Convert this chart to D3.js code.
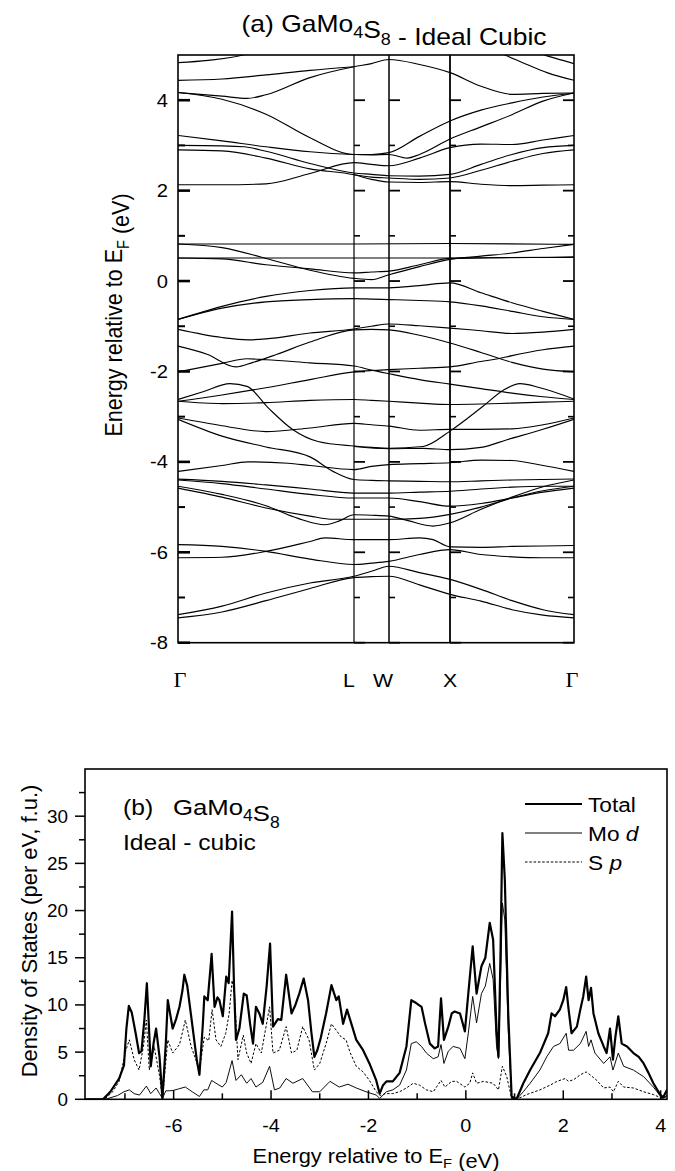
<!DOCTYPE html>
<html><head><meta charset="utf-8">
<script src="https://cdn.jsdelivr.net/npm/d3@7/dist/d3.min.js"></script>
<style>
body{margin:0;background:#fff}
svg{display:block}
text{font-family:"Liberation Sans",Arial,Helvetica,sans-serif;fill:#000}
</style>
</head><body>
<svg id="c" width="675" height="1171"></svg>
<script>
// ---------------- DATA ----------------
// (a) band structure: high-symmetry points along the k path
const kPoints = [0, 1.76, 2.11, 2.72, 3.96];
const kLabels = ["Γ", "L", "W", "X", "Γ"];
const bandYTicks = [-8, -6, -4, -2, 0, 2, 4];
const bandMinorTicks = [-7, -5, -3, -1, 1, 3];

// each band: [k, energy (eV)]
const bands = [
  [[0,4.83],[0.3,4.88],[0.65,5.0],[1.0,5.3],[1.76,5.6],[2.72,5.6],[3.34,5.3],[3.69,4.98],[3.85,4.88],[3.96,4.81]],
  [[0,4.44],[0.44,4.47],[0.88,4.56],[1.32,4.66],[1.76,4.74]],
  [[3.1,5.15],[3.27,5.0],[3.49,4.79],[3.69,4.61],[3.96,4.44]],
  [[0,4.17],[0.44,4.09],[0.69,4.04],[0.88,4.12],[1.32,4.5],[1.76,4.74],[1.935,4.81],[2.11,4.90],[2.415,4.79],[2.72,4.61],[3.03,4.31],[3.34,4.13],[3.65,4.15],[3.96,4.16]],
  [[0,4.17],[0.44,4.02],[0.88,3.69],[1.32,3.17],[1.76,2.80],[1.935,2.80],[2.11,2.84],[2.415,3.20],[2.72,3.54],[3.03,3.78],[3.34,3.94],[3.65,4.07],[3.96,4.16]],
  [[0,3.22],[0.44,3.10],[0.88,2.97],[1.32,2.86],[1.76,2.80],[1.935,2.79],[2.11,2.80],[2.29,2.72],[2.415,2.80],[2.72,3.14],[3.03,3.41],[3.34,3.68],[3.65,3.98],[3.96,4.16]],
  [[0,3.0],[0.44,2.99],[0.66,2.97],[0.88,2.87],[1.32,2.60],[1.76,2.39],[1.935,2.36],[2.11,2.33],[2.415,2.32],[2.72,2.36],[3.03,2.58],[3.34,2.80],[3.65,2.95],[3.96,3.0]],
  [[0,2.9],[0.44,2.88],[0.88,2.72],[1.32,2.48],[1.76,2.35],[1.935,2.25],[2.11,2.19],[2.415,2.18],[2.72,2.2],[3.03,2.14],[3.34,2.11],[3.65,2.12],[3.96,2.13]],
  [[0,2.13],[0.44,2.13],[0.88,2.15],[1.32,2.38],[1.76,2.62],[1.935,2.58],[2.11,2.55],[2.415,2.72],[2.72,2.95],[3.03,3.03],[3.34,3.02],[3.65,3.12],[3.96,3.22]],
  [[1.76,2.35],[1.935,2.3],[2.11,2.28],[2.415,2.25],[2.72,2.28],[3.03,2.45],[3.34,2.65],[3.65,2.82],[3.96,2.9]],
  [[0,0.82],[1.76,0.82],[2.72,0.83],[3.96,0.81]],
  [[0,0.51],[1.76,0.51],[2.72,0.51],[3.96,0.53]],
  [[0,0.82],[0.44,0.74],[0.88,0.5],[1.32,0.24],[1.76,0.06],[1.935,0.03],[2.11,0.14],[2.415,0.32],[2.72,0.48],[3.03,0.55],[3.34,0.62],[3.65,0.72],[3.96,0.81]],
  [[0,0.51],[0.44,0.49],[0.88,0.36],[1.32,0.27],[1.76,0.18],[1.935,0.2],[2.11,0.22],[2.415,0.36],[2.72,0.5],[3.03,0.51],[3.34,0.52],[3.65,0.52],[3.96,0.53]],
  [[0,-0.85],[0.44,-0.56],[0.88,-0.34],[1.32,-0.21],[1.76,-0.15],[1.935,-0.15],[2.11,-0.15],[2.415,-0.1],[2.72,-0.04],[3.03,-0.26],[3.34,-0.48],[3.65,-0.67],[3.96,-0.85]],
  [[0,-0.85],[0.44,-0.6],[0.88,-0.46],[1.32,-0.41],[1.76,-0.39],[1.935,-0.4],[2.11,-0.41],[2.415,-0.43],[2.72,-0.46],[3.03,-0.55],[3.34,-0.67],[3.65,-0.79],[3.96,-0.85]],
  [[0,-1.07],[0.44,-1.25],[0.7,-1.3],[0.88,-1.28],[1.32,-1.15],[1.76,-1.06],[1.935,-1.0],[2.11,-0.95],[2.415,-0.99],[2.72,-1.04],[3.03,-1.1],[3.34,-1.16],[3.65,-1.13],[3.96,-1.07]],
  [[0,-1.44],[0.29,-1.62],[0.58,-1.9],[0.75,-1.8],[0.99,-1.62],[1.32,-1.35],[1.76,-1.08],[1.935,-1.07],[2.11,-1.08],[2.415,-1.2],[2.72,-1.37],[3.03,-1.58],[3.34,-1.8],[3.65,-1.95],[3.96,-2.01]],
  [[0,-2.01],[0.44,-1.82],[0.69,-1.72],[0.88,-1.74],[1.32,-1.81],[1.76,-1.88],[1.935,-1.97],[2.11,-2.05],[2.415,-2.18],[2.72,-2.28],[3.03,-2.38],[3.34,-2.48],[3.65,-2.56],[3.96,-2.62]],
  [[0,-2.66],[0.44,-2.52],[0.88,-2.36],[1.32,-2.18],[1.76,-2.01],[1.935,-1.98],[2.11,-1.96],[2.415,-1.93],[2.72,-1.9],[3.03,-1.78],[3.2,-1.72],[3.34,-1.65],[3.65,-1.52],[3.96,-1.44]],
  [[0,-2.66],[0.44,-2.71],[0.88,-2.69],[1.32,-2.64],[1.76,-2.62],[1.935,-2.64],[2.11,-2.66],[2.415,-2.7],[2.72,-2.73],[3.03,-2.72],[3.34,-2.7],[3.65,-2.68],[3.96,-2.66]],
  [[0,-2.62],[0.25,-2.45],[0.52,-2.27],[0.69,-2.33],[0.9,-2.8],[1.15,-3.29],[1.4,-3.55],[1.76,-3.65],[1.935,-3.68],[2.11,-3.7],[2.45,-3.66],[2.72,-3.32],[3.05,-2.77],[3.25,-2.42],[3.42,-2.27],[3.62,-2.36],[3.96,-2.61]],
  [[1.76,-3.66],[2.11,-3.71],[2.45,-3.70],[2.72,-3.73],[3.03,-3.68],[3.29,-3.51],[3.65,-3.28],[3.96,-3.06]],
  [[0,-3.03],[0.44,-3.2],[0.88,-3.33],[1.32,-3.25],[1.76,-3.15],[1.935,-3.18],[2.11,-3.21],[2.415,-3.3],[2.72,-3.28],[3.03,-3.28],[3.34,-3.27],[3.65,-3.18],[3.96,-3.03]],
  [[0,-3.06],[0.44,-3.43],[0.88,-3.67],[1.32,-3.89],[1.55,-4.21],[1.76,-4.39],[1.935,-4.41],[2.11,-4.42],[2.415,-4.43],[2.72,-4.44],[3.03,-4.42],[3.34,-4.4],[3.65,-4.39],[3.96,-4.38]],
  [[0,-4.21],[0.44,-4.08],[0.7,-4.0],[1.1,-4.03],[1.32,-4.08],[1.76,-4.17],[1.935,-4.1],[2.11,-4.06],[2.415,-4.04],[2.72,-4.02],[3.03,-3.96],[3.34,-3.97],[3.65,-4.08],[3.96,-4.21]],
  [[0,-4.38],[0.44,-4.43],[0.88,-4.51],[1.32,-4.6],[1.76,-4.69],[1.935,-4.69],[2.11,-4.69],[2.415,-4.67],[2.72,-4.65],[3.03,-4.6],[3.34,-4.56],[3.65,-4.54],[3.96,-4.54]],
  [[0,-4.40],[0.44,-4.48],[0.88,-4.6],[1.32,-4.72],[1.76,-4.8],[1.935,-4.8],[2.11,-4.8],[2.415,-4.88],[2.72,-4.98],[3.03,-4.92],[3.34,-4.8],[3.65,-4.67],[3.96,-4.58]],
  [[0,-4.54],[0.44,-4.72],[0.88,-4.97],[1.2,-5.25],[1.47,-5.39],[1.62,-5.3],[1.76,-5.17],[1.935,-5.18],[2.11,-5.2],[2.3,-5.3],[2.55,-5.42],[2.72,-5.35],[3.03,-5.05],[3.34,-4.78],[3.65,-4.55],[3.96,-4.40]],
  [[0,-4.58],[0.44,-4.78],[0.88,-5.02],[1.32,-5.2],[1.55,-5.27],[1.76,-5.27],[1.935,-5.27],[2.11,-5.27],[2.415,-5.25],[2.72,-5.16],[3.03,-5.0],[3.34,-4.8],[3.65,-4.64],[3.96,-4.54]],
  [[0,-5.83],[0.44,-5.87],[0.88,-5.98],[1.32,-6.15],[1.76,-6.27],[1.935,-6.24],[2.11,-6.2],[2.415,-6.05],[2.72,-5.94],[3.03,-6.05],[3.34,-6.1],[3.65,-6.12],[3.96,-6.12]],
  [[0,-6.12],[0.44,-6.11],[0.88,-5.98],[1.32,-5.76],[1.47,-5.68],[1.76,-5.72],[1.935,-5.72],[2.11,-5.72],[2.415,-5.68],[2.55,-5.72],[2.72,-5.88],[3.03,-5.89],[3.34,-5.87],[3.65,-5.86],[3.96,-5.85]],
  [[0,-7.38],[0.44,-7.19],[0.88,-6.9],[1.32,-6.68],[1.76,-6.53],[1.935,-6.42],[2.11,-6.31],[2.415,-6.45],[2.72,-6.6],[3.03,-6.82],[3.34,-7.07],[3.65,-7.27],[3.96,-7.38]],
  [[0,-7.45],[0.44,-7.32],[0.88,-7.07],[1.32,-6.8],[1.76,-6.56],[1.935,-6.54],[2.11,-6.53],[2.415,-6.72],[2.72,-6.93],[3.03,-7.08],[3.34,-7.27],[3.65,-7.39],[3.96,-7.45]]
];

// (b) density of states: [energy (eV), DOS (per eV, f.u.)]
const dosXTicks = [-6, -4, -2, 0, 2, 4];
const dosXMinor = [-7, -5, -3, -1, 1, 3];
const dosYTicks = [0, 5, 10, 15, 20, 25, 30];
const dosYMinor = [2.5, 7.5, 12.5, 17.5, 22.5, 27.5, 32.5];

const dosTotal = [[-7.84,0],[-7.45,0],[-7.3,0.8],[-7.12,2.2],[-7.02,3.6],[-6.97,7.5],[-6.92,9.9],[-6.86,9.2],[-6.78,7.0],[-6.71,4.9],[-6.66,5.1],[-6.60,8.5],[-6.55,12.3],[-6.51,8.0],[-6.47,3.5],[-6.41,6.0],[-6.36,7.5],[-6.29,4.5],[-6.23,0.1],[-6.16,6.0],[-6.12,10.5],[-6.07,9.0],[-6.02,7.5],[-5.95,8.5],[-5.88,9.8],[-5.82,11.5],[-5.78,13.2],[-5.72,12.0],[-5.62,8.0],[-5.52,4.0],[-5.47,2.6],[-5.40,8.0],[-5.37,10.9],[-5.30,10.5],[-5.22,15.4],[-5.16,9.8],[-5.10,10.8],[-5.06,10.5],[-4.99,8.8],[-4.92,13.0],[-4.87,12.3],[-4.80,19.9],[-4.76,12.0],[-4.72,6.3],[-4.65,7.5],[-4.56,11.2],[-4.50,11.0],[-4.43,8.0],[-4.37,5.9],[-4.31,9.8],[-4.24,9.1],[-4.17,8.0],[-4.09,12.0],[-4.02,16.5],[-3.96,7.7],[-3.86,8.5],[-3.79,8.4],[-3.69,13.2],[-3.58,9.1],[-3.50,10.0],[-3.42,11.2],[-3.33,12.8],[-3.24,10.5],[-3.17,7.0],[-3.11,4.5],[-3.05,5.2],[-2.98,6.5],[-2.87,9.1],[-2.76,12.1],[-2.66,10.5],[-2.61,10.9],[-2.52,8.0],[-2.44,9.5],[-2.35,8.0],[-2.25,6.3],[-2.11,5.2],[-1.98,3.8],[-1.84,2.0],[-1.77,0.6],[-1.70,1.5],[-1.63,1.9],[-1.5,1.9],[-1.36,2.8],[-1.22,5.6],[-1.12,10.5],[-1.02,10.2],[-0.91,9.8],[-0.84,8.1],[-0.74,5.9],[-0.64,5.4],[-0.57,5.6],[-0.51,10.7],[-0.45,6.3],[-0.36,7.7],[-0.29,9.1],[-0.23,9.3],[-0.12,9.1],[-0.02,7.2],[0.05,11.2],[0.14,16.2],[0.22,11.2],[0.32,14.1],[0.40,15.0],[0.49,18.7],[0.56,16.9],[0.63,7.3],[0.67,4.5],[0.71,15.0],[0.75,28.2],[0.80,23.3],[0.87,9.1],[0.94,0.3],[1.04,0],[1.18,1.7],[1.32,3.1],[1.52,4.9],[1.69,7.0],[1.76,9.1],[1.83,8.8],[1.93,9.5],[2.0,10.5],[2.06,11.9],[2.11,9.5],[2.17,7.0],[2.28,7.7],[2.35,9.5],[2.41,10.9],[2.47,13.0],[2.52,10.5],[2.57,11.8],[2.62,9.1],[2.72,7.0],[2.83,5.6],[2.89,4.9],[2.96,7.5],[3.02,4.2],[3.07,6.6],[3.13,8.8],[3.20,5.9],[3.31,5.6],[3.44,4.9],[3.55,4.5],[3.65,3.8],[3.75,2.8],[3.85,1.7],[3.99,0.5],[4.05,0.2],[4.13,1.0]];

const dosMoD = [[-7.84,0],[-7.4,0],[-7.15,0.4],[-7.02,0.8],[-6.91,1.0],[-6.81,0.6],[-6.70,0.45],[-6.56,1.4],[-6.47,0.6],[-6.36,1.2],[-6.29,0.6],[-6.23,0.1],[-6.16,0.9],[-6.08,0.9],[-6.0,0.95],[-5.90,1.1],[-5.76,1.3],[-5.62,0.8],[-5.47,0.3],[-5.38,1.0],[-5.30,1.0],[-5.22,2.0],[-5.13,1.7],[-5.0,1.3],[-4.92,1.8],[-4.80,4.1],[-4.72,2.0],[-4.61,2.6],[-4.50,1.7],[-4.41,2.2],[-4.31,1.3],[-4.17,1.8],[-4.03,3.5],[-3.93,1.0],[-3.82,1.2],[-3.69,2.2],[-3.55,1.7],[-3.35,2.2],[-3.15,0.8],[-3.0,0.8],[-2.79,1.9],[-2.6,1.3],[-2.42,1.6],[-2.25,1.2],[-2.05,0.8],[-1.84,0.45],[-1.77,0.1],[-1.63,0.8],[-1.5,1.0],[-1.36,1.5],[-1.22,3.1],[-1.12,5.9],[-1.02,6.1],[-0.91,5.6],[-0.81,4.9],[-0.67,4.3],[-0.57,4.5],[-0.51,5.8],[-0.45,3.8],[-0.36,5.1],[-0.26,5.6],[-0.12,5.4],[-0.02,4.3],[0.05,7.0],[0.14,10.9],[0.22,8.1],[0.32,11.2],[0.40,12.0],[0.49,14.4],[0.56,12.7],[0.63,5.6],[0.67,4.3],[0.71,12.0],[0.75,20.8],[0.80,19.0],[0.87,7.3],[0.94,0.1],[1.04,0],[1.18,0.8],[1.32,1.7],[1.52,3.1],[1.66,4.5],[1.80,5.6],[1.93,5.9],[2.06,7.0],[2.11,5.2],[2.21,5.2],[2.35,5.9],[2.47,7.2],[2.52,5.6],[2.57,6.3],[2.65,4.9],[2.83,3.8],[2.96,4.5],[3.02,3.1],[3.13,4.9],[3.24,3.5],[3.44,3.1],[3.65,2.4],[3.85,1.3],[4.03,0.1],[4.13,0.4]];

const dosSp = [[-7.84,0],[-7.42,0],[-7.25,0.8],[-7.12,1.9],[-6.98,5.2],[-6.91,6.3],[-6.81,4.2],[-6.71,3.1],[-6.62,5.6],[-6.56,8.4],[-6.50,3.1],[-6.40,5.6],[-6.29,2.5],[-6.23,0],[-6.12,6.3],[-6.02,4.9],[-5.88,5.8],[-5.76,8.4],[-5.64,5.6],[-5.47,3.1],[-5.37,6.6],[-5.28,6.2],[-5.21,9.5],[-5.13,6.3],[-5.03,5.6],[-4.93,7.0],[-4.86,9.1],[-4.80,12.6],[-4.75,11.2],[-4.68,4.2],[-4.57,6.8],[-4.50,4.9],[-4.41,3.8],[-4.31,5.9],[-4.20,4.9],[-4.03,9.8],[-3.96,4.9],[-3.83,5.2],[-3.69,7.7],[-3.58,4.9],[-3.47,5.2],[-3.35,7.7],[-3.22,6.3],[-3.11,3.1],[-3.0,3.8],[-2.87,5.9],[-2.76,8.0],[-2.66,7.3],[-2.56,6.6],[-2.46,6.3],[-2.38,5.0],[-2.25,3.5],[-2.11,2.9],[-1.98,2.0],[-1.84,0.8],[-1.76,0.4],[-1.65,0.6],[-1.5,0.6],[-1.36,0.8],[-1.22,1.2],[-1.08,1.7],[-0.95,1.5],[-0.81,1.0],[-0.67,0.8],[-0.51,2.0],[-0.43,1.3],[-0.29,1.9],[-0.19,1.9],[-0.02,1.3],[0.08,1.7],[0.14,2.8],[0.22,1.7],[0.36,1.9],[0.56,1.7],[0.67,1.0],[0.75,3.5],[0.84,2.4],[0.94,0.1],[1.04,0],[1.25,0.5],[1.52,1.0],[1.73,1.5],[1.87,1.9],[2.04,2.2],[2.11,1.9],[2.22,2.1],[2.35,2.6],[2.47,2.9],[2.55,2.6],[2.69,2.0],[2.83,1.2],[2.96,1.3],[3.03,0.8],[3.13,1.9],[3.24,1.3],[3.44,1.2],[3.65,0.8],[3.85,0.5],[4.03,0.1],[4.13,0.3]];

const legendNames = [["Total",""],["Mo ","d"],["S ","p"]];

// ---------------- DRAW ----------------
const svg = d3.select("#c");
const SX = 1.12;

function addText(x, y, size, anchor, opts = {}) {
  const sx = (opts.sx !== undefined) ? opts.sx : SX;
  let tr = `translate(${x},${y}) scale(${sx},1)`;
  if (opts.rot) tr += ` rotate(${opts.rot})`;
  const t = svg.append("text").attr("transform", tr)
    .attr("text-anchor", anchor).attr("font-size", size);
  if (opts.family) t.style("font-family", opts.family);
  return t;
}
function addSub(t, s, size) {
  t.append("tspan").attr("dy", size * 0.28).attr("font-size", size * 0.68).text(s);
  t.append("tspan").attr("dy", -size * 0.28).text("");
}

// ===== Panel (a) =====
const A = {l: 178, r: 574, t: 55, b: 642.7};
const xb = d3.scaleLinear().domain([kPoints[0], kPoints[kPoints.length - 1]]).range([A.l, A.r]);
const yb = d3.scaleLinear().domain([-8, 5]).range([A.b, A.t]);

svg.append("clipPath").attr("id", "clipA").append("rect")
  .attr("x", A.l).attr("y", A.t).attr("width", A.r - A.l).attr("height", A.b - A.t);

const bandLine = d3.line().x(d => xb(d[0])).y(d => yb(d[1])).curve(d3.curveMonotoneX);
svg.append("g").attr("clip-path", "url(#clipA)")
  .selectAll("path").data(bands).join("path")
  .attr("d", bandLine).attr("fill", "none").attr("stroke", "#000").attr("stroke-width", 1.15);

// vertical lines at L, W, X
const vW = [1.2, 1.5, 1.8];
kPoints.slice(1, -1).forEach((k, i) => {
  svg.append("line").attr("x1", xb(k)).attr("x2", xb(k)).attr("y1", A.t).attr("y2", A.b)
    .attr("stroke", "#000").attr("stroke-width", vW[i]);
});

// ticks
const tickG = svg.append("g").attr("stroke", "#000");
function tk(x1, x2, y, w) {
  tickG.append("line").attr("x1", x1).attr("x2", x2).attr("y1", y).attr("y2", y).attr("stroke-width", w);
}
bandYTicks.forEach(v => {
  tk(A.l, A.l + 12, yb(v), 2.6);
  kPoints.slice(1, -1).forEach(k => tk(xb(k), xb(k) + 11, yb(v), 1.8));
  tk(A.r - 11, A.r, yb(v), 1.8);
});
bandMinorTicks.forEach(v => {
  tk(A.l, A.l + 7, yb(v), 2);
  kPoints.slice(1, -1).forEach(k => tk(xb(k), xb(k) + 6, yb(v), 1.6));
  tk(A.r - 6, A.r, yb(v), 1.6);
});

// frame
svg.append("rect").attr("x", A.l).attr("y", A.t).attr("width", A.r - A.l).attr("height", A.b - A.t)
  .attr("fill", "none").attr("stroke", "#000").attr("stroke-width", 1.6);

// y tick labels
bandYTicks.forEach(v => addText(A.l - 10, yb(v) + 6.5, 18, "end").text(v));

// k labels
const kLabOff = [2, -5, -6, 0, -2];
kPoints.forEach((k, i) => {
  const isG = kLabels[i] === "Γ";
  const t = addText(xb(k) + kLabOff[i], 687, isG ? 20 : 19, "middle",
    isG ? {family: '"Liberation Serif","Times New Roman",serif'} : {});
  t.text(kLabels[i]);
});

// title
{
  const t = addText(394, 32, 23, "middle", {sx: 1.15});
  t.append("tspan").text("(a) GaMo");
  addSub(t, "4", 23);
  t.append("tspan").text("S");
  addSub(t, "8", 23);
  t.append("tspan").text(" - Ideal Cubic");
}
// y label
{
  const t = addText(122, 315, 21.5, "middle", {rot: -90, sx: 1.1});
  t.append("tspan").text("Energy relative to E");
  addSub(t, "F", 21.5);
  t.append("tspan").text(" (eV)");
}

// ===== Panel (b) =====
const B = {l: 85, r: 667, t: 769, b: 1099.3};
const xd = d3.scaleLinear().domain([-7.82, 4.13]).range([B.l, B.r]);
const yd = d3.scaleLinear().domain([0, 35]).range([B.b, B.t]);

svg.append("clipPath").attr("id", "clipB").append("rect")
  .attr("x", B.l).attr("y", B.t).attr("width", B.r - B.l).attr("height", B.b - B.t);

const dosLine = d3.line().x(d => xd(d[0])).y(d => yd(d[1]));
const gB = svg.append("g").attr("clip-path", "url(#clipB)");
gB.append("path").datum(dosSp).attr("d", dosLine).attr("fill", "none").attr("stroke", "#000")
  .attr("stroke-width", 1).attr("stroke-dasharray", "2.5,1.8");
gB.append("path").datum(dosMoD).attr("d", dosLine).attr("fill", "none").attr("stroke", "#000")
  .attr("stroke-width", 0.95);
gB.append("path").datum(dosTotal).attr("d", dosLine).attr("fill", "none").attr("stroke", "#000")
  .attr("stroke-width", 2.2).attr("stroke-linejoin", "round");

// frame
svg.append("rect").attr("x", B.l).attr("y", B.t).attr("width", B.r - B.l).attr("height", B.b - B.t)
  .attr("fill", "none").attr("stroke", "#000").attr("stroke-width", 1.6);

// ticks
const tB = svg.append("g").attr("stroke", "#000").attr("stroke-width", 1.5);
dosYTicks.forEach(v => tB.append("line").attr("x1", B.l - 10).attr("x2", B.l).attr("y1", yd(v)).attr("y2", yd(v)));
dosYMinor.forEach(v => tB.append("line").attr("x1", B.l - 6).attr("x2", B.l).attr("y1", yd(v)).attr("y2", yd(v)));
dosXTicks.forEach(v => tB.append("line").attr("x1", xd(v)).attr("x2", xd(v)).attr("y1", B.b).attr("y2", B.b - 9));
dosXMinor.forEach(v => tB.append("line").attr("x1", xd(v)).attr("x2", xd(v)).attr("y1", B.b).attr("y2", B.b - 6));

dosYTicks.forEach(v => addText(68, yd(v) + 6.5, 18, "end", {sx: 1.05}).text(v));
dosXTicks.forEach(v => addText(xd(v), 1132, 18, "middle", {sx: 1.1}).text(v));

// x label
{
  const t = addText(376, 1163, 19.5, "middle", {sx: 1.12});
  t.append("tspan").text("Energy relative to E");
  addSub(t, "F", 19.5);
  t.append("tspan").text(" (eV)");
}
// y label
addText(37, 931, 22, "middle", {rot: -90, sx: 1.0}).text("Density of States (per eV, f.u.)");

// panel labels
addText(123, 815, 22, "start", {sx: 1.12}).text("(b)");
{
  const t = addText(173, 815, 23, "start", {sx: 1.12});
  t.append("tspan").text("GaMo");
  addSub(t, "4", 23);
  t.append("tspan").text("S");
  addSub(t, "8", 23);
}
addText(123, 850, 22, "start", {sx: 1.12}).text("Ideal - cubic");

// legend
const legY = [804, 833, 862];
const legStyle = [{w: 2.2, d: null}, {w: 1, d: null}, {w: 1, d: "2.5,1.8"}];
legendNames.forEach((n, i) => {
  const l = svg.append("line").attr("x1", 525).attr("x2", 582).attr("y1", legY[i]).attr("y2", legY[i])
    .attr("stroke", "#000").attr("stroke-width", legStyle[i].w);
  if (legStyle[i].d) l.attr("stroke-dasharray", legStyle[i].d);
  const t = addText(588, legY[i] + 7.5, 21, "start", {sx: 1.08});
  t.append("tspan").text(n[0]);
  if (n[1]) t.append("tspan").attr("font-style", "italic").text(n[1]);
});
</script>
</body></html>
